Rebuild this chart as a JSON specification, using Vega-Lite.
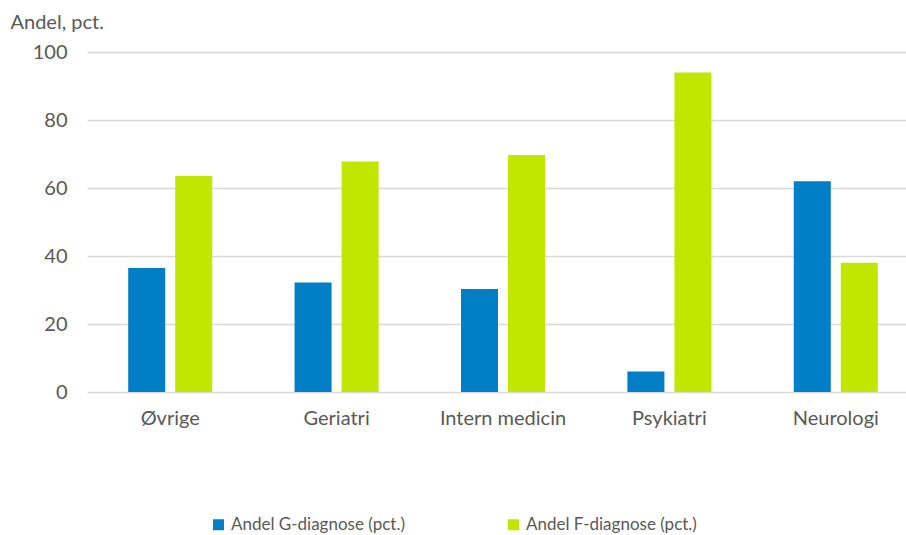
{
  "$schema": "https://vega.github.io/schema/vega-lite/v6.json",
  "autosize": "none",
  "width": 819,
  "height": 340,
  "padding": {"left": 87, "top": 52, "right": 0, "bottom": 143},
  "background": "white",
  "config": {
    "font": "Lato",
    "view": {"stroke": null},
    "axis": {"labelFont": "Lato", "titleFont": "Lato", "labelColor": "#595959", "titleColor": "#595959"}
  },
  "data": {
    "values": [
      {"Kategori": "Øvrige", "Serie": "Andel G-diagnose (pct.)", "Andel": 36.5},
      {"Kategori": "Øvrige", "Serie": "Andel F-diagnose (pct.)", "Andel": 63.5},
      {"Kategori": "Geriatri", "Serie": "Andel G-diagnose (pct.)", "Andel": 32.2},
      {"Kategori": "Geriatri", "Serie": "Andel F-diagnose (pct.)", "Andel": 67.8},
      {"Kategori": "Intern medicin", "Serie": "Andel G-diagnose (pct.)", "Andel": 30.3},
      {"Kategori": "Intern medicin", "Serie": "Andel F-diagnose (pct.)", "Andel": 69.7},
      {"Kategori": "Psykiatri", "Serie": "Andel G-diagnose (pct.)", "Andel": 6.0},
      {"Kategori": "Psykiatri", "Serie": "Andel F-diagnose (pct.)", "Andel": 94.0},
      {"Kategori": "Neurologi", "Serie": "Andel G-diagnose (pct.)", "Andel": 62.0},
      {"Kategori": "Neurologi", "Serie": "Andel F-diagnose (pct.)", "Andel": 38.0}
    ]
  },
  "mark": {"type": "bar"},
  "encoding": {
    "x": {
      "field": "Kategori",
      "type": "nominal",
      "sort": ["Øvrige", "Geriatri", "Intern medicin", "Psykiatri", "Neurologi"],
      "scale": {"paddingInner": 0.2, "paddingOuter": 0.061, "align": 0.82},
      "axis": {
        "title": null,
        "labelAngle": 0,
        "domain": false,
        "ticks": false,
        "grid": false,
        "labelFontSize": 20,
        "labelPadding": 16
      }
    },
    "xOffset": {
      "field": "Serie",
      "type": "nominal",
      "sort": ["Andel G-diagnose (pct.)", "Andel F-diagnose (pct.)"],
      "scale": {"paddingInner": 0.213, "paddingOuter": 0.522}
    },
    "y": {
      "field": "Andel",
      "type": "quantitative",
      "scale": {"domain": [0, 100], "nice": false},
      "axis": {
        "title": "Andel, pct.",
        "titleAngle": 0,
        "titleAlign": "left",
        "titleBaseline": "alphabetic",
        "titleX": -77,
        "titleY": -24,
        "titleFontSize": 20,
        "titleFontWeight": "normal",
        "values": [0, 20, 40, 60, 80, 100],
        "domain": false,
        "ticks": false,
        "labelPadding": 20,
        "labelFontSize": 20,
        "gridColor": "#d9d9d9",
        "gridWidth": 1.5
      }
    },
    "color": {
      "field": "Serie",
      "type": "nominal",
      "sort": ["Andel G-diagnose (pct.)", "Andel F-diagnose (pct.)"],
      "scale": {
        "domain": ["Andel G-diagnose (pct.)", "Andel F-diagnose (pct.)"],
        "range": ["#007EC6", "#C1E600"]
      },
      "legend": {
        "title": null,
        "orient": "none",
        "direction": "horizontal",
        "legendX": 123,
        "legendY": 464,
        "symbolType": "square",
        "symbolSize": 121,
        "symbolStrokeWidth": 0,
        "labelFontSize": 17,
        "labelColor": "#595959",
        "labelFont": "Lato",
        "labelOffset": 4,
        "labelLimit": 0,
        "columnPadding": 100
      }
    }
  }
}
